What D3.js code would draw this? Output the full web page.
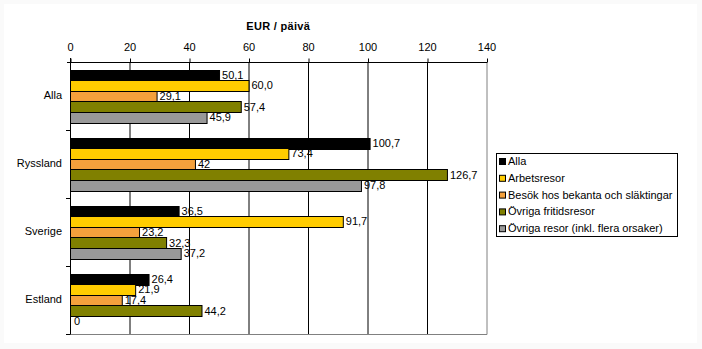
<!DOCTYPE html>
<html>
<head>
<meta charset="utf-8">
<script src="https://cdn.jsdelivr.net/npm/d3@7"></script>
<style>
  html, body { margin: 0; padding: 0; background: #fafafa; }
  svg { display: block; }
  text { font-family: "Liberation Sans", Arial, sans-serif; }
</style>
</head>
<body>
<svg id="chart" width="702" height="349"></svg>
<script>
// Destinations (rows) and trip purposes (series)
const categories = ["Alla", "Ryssland", "Sverige", "Estland"];
const seriesNames = [
  "Alla",
  "Arbetsresor",
  "Besök hos bekanta och släktingar",
  "Övriga fritidsresor",
  "Övriga resor (inkl. flera orsaker)"
];
const seriesColors = ["#000000", "#ffcc00", "#f4a03c", "#808000", "#999999"];

// EUR per day, written as shown in the value labels
const allaValues      = ["50,1", "100,7", "36,5", "26,4"];
const arbetsValues    = ["60,0", "73,4", "91,7", "21,9"];
const besokValues     = ["29,1", "42", "23,2", "17,4"];
const fritidValues    = ["57,4", "126,7", "32,3", "44,2"];
const ovrigaValues    = ["45,9", "97,8", "37,2", "0"];
const seriesValues = [allaValues, arbetsValues, besokValues, fritidValues, ovrigaValues];

const xTicks = [0, 20, 40, 60, 80, 100, 120, 140];
const axisTitle = "EUR / päivä";

const toNum = s => +s.replace(",", ".");

const svg = d3.select("#chart");
svg.append("rect").attr("x", 4).attr("y", 4).attr("width", 693).attr("height", 339).attr("fill", "#ffffff");

const pLeft = 70, pRight = 486.5, pTop = 62, pBottom = 334;

const x = d3.scaleLinear().domain([0, 140]).range([pLeft, pRight]);
const y = d3.scaleBand().domain(categories).range([pTop, pBottom]);
const inner = d3.scaleBand().domain(d3.range(seriesNames.length))
  .range([7.5, y.bandwidth() - 7.5]);

// vertical gridlines
svg.append("g").selectAll("line")
  .data(xTicks.filter(t => t > 0 && t < 140))
  .join("line")
  .attr("x1", d => x(d) + 0.5).attr("x2", d => x(d) + 0.5)
  .attr("y1", pTop).attr("y2", pBottom)
  .attr("stroke", "#000").attr("stroke-width", 1);

// plot frame right / bottom (grey)
svg.append("line").attr("x1", pRight + 0.5).attr("x2", pRight + 0.5)
  .attr("y1", pTop).attr("y2", pBottom + 0.5).attr("stroke", "#808080");
svg.append("line").attr("x1", pLeft).attr("x2", pRight + 0.5)
  .attr("y1", pBottom + 0.5).attr("y2", pBottom + 0.5).attr("stroke", "#808080");

// bars
const rows = [];
categories.forEach((c, ci) => {
  seriesValues.forEach((vals, si) => {
    rows.push({ cat: c, si, label: vals[ci], value: toNum(vals[ci]) });
  });
});

const barG = svg.append("g");
barG.selectAll("rect")
  .data(rows.filter(d => d.value > 0))
  .join("rect")
  .attr("x", x(0) + 0.5)
  .attr("y", d => Math.round(y(d.cat) + inner(d.si)) + 0.5)
  .attr("width", d => x(d.value) - x(0))
  .attr("height", Math.round(inner.bandwidth()))
  .attr("fill", d => seriesColors[d.si])
  .attr("stroke", "#000").attr("stroke-width", 1);

// value labels
svg.append("g").selectAll("text")
  .data(rows)
  .join("text")
  .attr("x", d => x(d.value) + (d.value > 0 ? 3 : 4))
  .attr("y", d => y(d.cat) + inner(d.si) + inner.bandwidth() / 2 + 1)
  .attr("dominant-baseline", "middle")
  .attr("font-size", 11)
  .attr("fill", "#000")
  .text(d => d.label);

// top axis
const xAxis = d3.axisTop(x).tickValues(xTicks).tickSize(4).tickPadding(8)
  .tickFormat(d3.format("d"));
const gx = svg.append("g").attr("transform", `translate(0,${pTop + 0.5})`).call(xAxis);
gx.select(".domain").attr("d", `M${pLeft - 3},0H${pRight + 0.5}`).attr("stroke", "#000");
gx.selectAll(".tick line").attr("stroke", "#000").attr("transform", "translate(0.5,0)");
gx.selectAll(".tick text").attr("font-size", 11).attr("font-family", "Liberation Sans, Arial, sans-serif").attr("fill", "#000");

// left axis: ticks at category boundaries
const yAxisG = svg.append("g");
yAxisG.append("line").attr("x1", pLeft + 0.5).attr("x2", pLeft + 0.5)
  .attr("y1", pTop - 4).attr("y2", pBottom + 0.5).attr("stroke", "#000");
yAxisG.selectAll("line.tk")
  .data(categories.slice(1).concat(["end"]))
  .join("line").attr("class", "tk")
  .attr("x1", pLeft - 4).attr("x2", pLeft)
  .attr("y1", d => (d === "end" ? pBottom : y(d)) + 0.5)
  .attr("y2", d => (d === "end" ? pBottom : y(d)) + 0.5)
  .attr("stroke", "#000");
yAxisG.selectAll("text")
  .data(categories)
  .join("text")
  .attr("x", pLeft - 8)
  .attr("y", d => y(d) + y.bandwidth() / 2)
  .attr("dominant-baseline", "middle")
  .attr("text-anchor", "end")
  .attr("font-size", 11)
  .text(d => d);

// axis title
svg.append("text")
  .attr("x", (pLeft + pRight) / 2).attr("y", 27)
  .attr("dominant-baseline", "middle")
  .attr("text-anchor", "middle")
  .attr("font-size", 11).attr("font-weight", "bold")
  .attr("letter-spacing", 0.3)
  .text(axisTitle);

// legend
const lg = svg.append("g").attr("transform", "translate(496,153)");
lg.append("rect").attr("x", 0.5).attr("y", 0.5).attr("width", 181).attr("height", 83)
  .attr("fill", "#fff").attr("stroke", "#000");
const items = lg.selectAll("g.item").data(seriesNames).join("g").attr("class", "item")
  .attr("transform", (d, i) => `translate(0,${8.5 + i * 16.8})`);
items.append("rect").attr("x", 3.5).attr("y", -3).attr("width", 6).attr("height", 6)
  .attr("fill", (d, i) => seriesColors[i]).attr("stroke", "#000");
items.append("text").attr("x", 12).attr("y", 0.5)
  .attr("dominant-baseline", "middle").attr("font-size", 11).text(d => d);
</script>
</body>
</html>
